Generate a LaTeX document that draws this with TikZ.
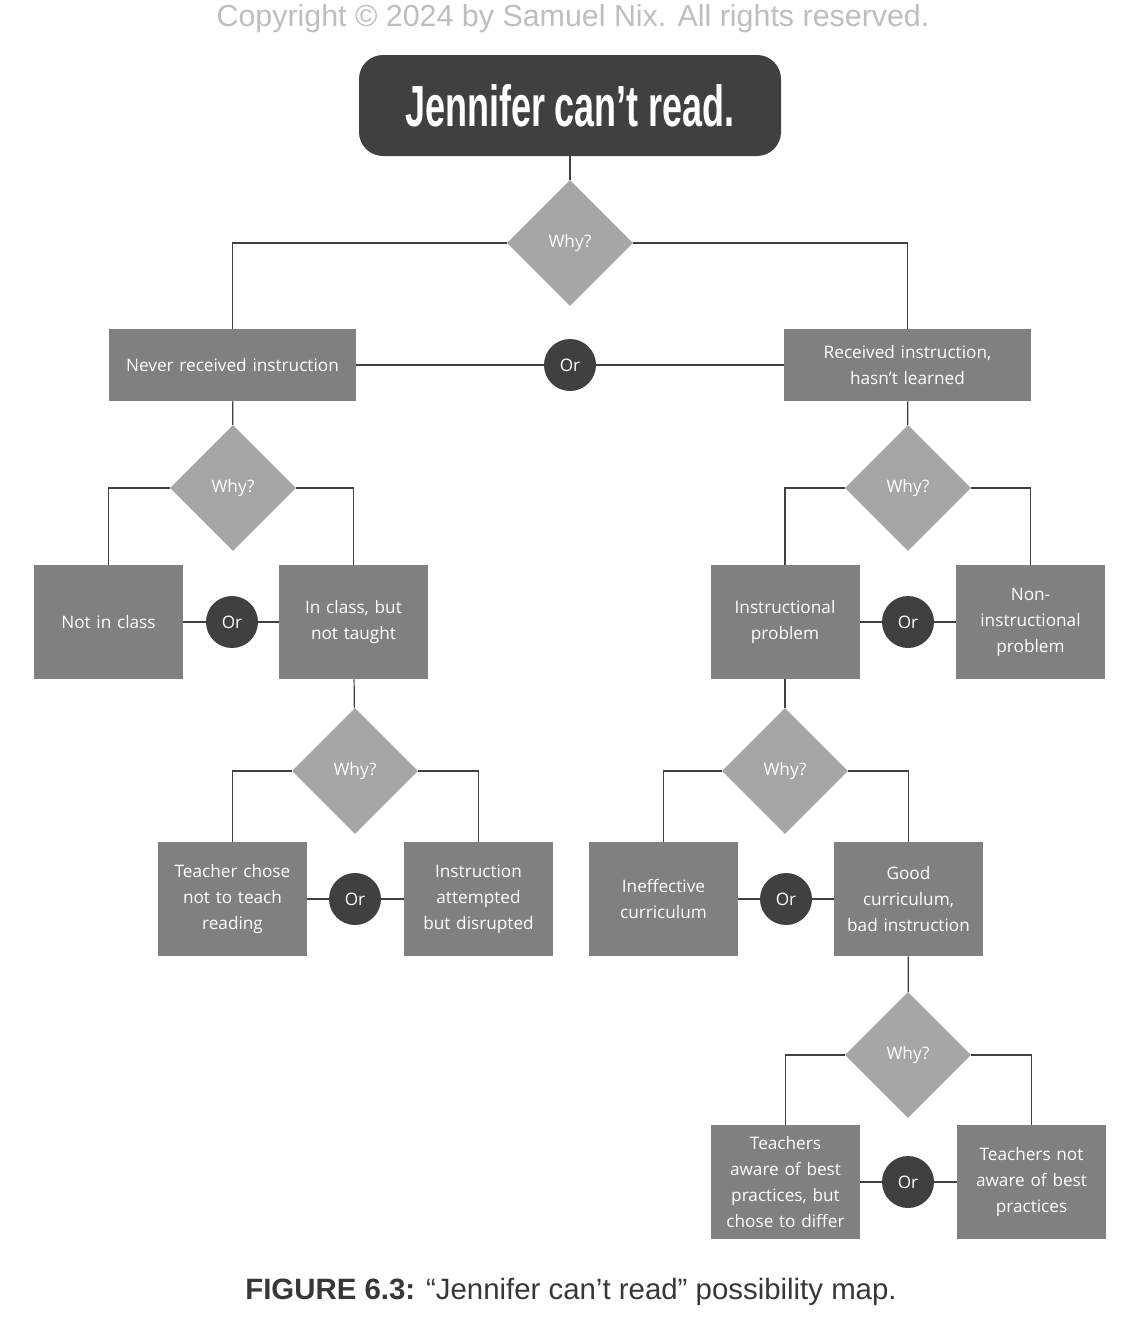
\documentclass[tikz,border=0pt]{standalone}
\usepackage{fontspec}
\setmainfont{Open Sans}
\newfontfamily\copyfont{Liberation Sans}
\newfontfamily\titlefont[FakeStretch=0.62]{Liberation Sans Bold}
\usepackage{xcolor}
\definecolor{darkbox}{RGB}{64, 64, 64}
\definecolor{boxgray}{RGB}{128, 128, 128}
\definecolor{whygray}{RGB}{166, 166, 166}
\definecolor{copygray}{RGB}{190, 190, 190}
\definecolor{captiongray}{RGB}{55, 55, 55}
\usetikzlibrary{shapes.geometric,positioning}

\begin{document}
\begin{tikzpicture}[x=0.5pt, y=-0.5pt,
  causebox/.style={fill=boxgray, text=white, minimum width=74.5pt, minimum height=57pt, text width=70pt, align=center, inner sep=0pt, font=\fontsize{8.6}{13}\selectfont},
  widebox/.style={causebox, minimum width=123.5pt, minimum height=36pt, text width=120pt},
  whyshape/.style={diamond, aspect=1, fill=whygray, text=white, minimum width=63pt, minimum height=63pt, inner sep=0pt, font=\fontsize{8.6}{10}\selectfont},
  ornode/.style={circle, fill=darkbox, text=white, minimum size=26pt, inner sep=0pt, font=\fontsize{8.6}{10}\selectfont},
  link/.style={draw=darkbox, line width=0.6pt}
]
\useasboundingbox (0,0) rectangle (1147,1329);

\node[text=copygray, font=\copyfont\fontsize{15.2}{17}\selectfont] (copy) at (573,19) {Copyright © 2024 by Samuel Nix. All rights reserved.};

% root
\node[fill=darkbox, rounded corners=12pt, minimum width=211pt, minimum height=50.5pt, text=white, font=\titlefont\fontsize{29}{32}\selectfont] (root) at (570,105.5) {Jennifer can’t read.};
\node[whyshape] (why1) at (570,243) {Why?};
\node[widebox] (never) at (232.5,365) {Never received instruction};
\node[ornode] (or1) at (570,365) {Or};
\node[widebox] (received) at (907.5,365) {Received instruction,\\hasn’t learned};

% left branch
\node[whyshape] (why2) at (233,488) {Why?};
\node[causebox] (notin) at (108.5,622) {Not in class};
\node[ornode] (or2) at (232,622) {Or};
\node[causebox] (inclass) at (353.5,622) {In class, but\\not taught};
\node[whyshape] (why3) at (355,771) {Why?};
\node[causebox] (chose) at (232.5,899) {Teacher chose\\not to teach\\reading};
\node[ornode] (or3) at (355,899) {Or};
\node[causebox] (disrupted) at (478.5,899) {Instruction\\attempted\\but disrupted};

% right branch
\node[whyshape] (why4) at (908,488) {Why?};
\node[causebox] (instr) at (785,622) {Instructional\\problem};
\node[ornode] (or4) at (908,622) {Or};
\node[causebox] (noninstr) at (1030.5,622) {Non-\\instructional\\problem};
\node[whyshape] (why5) at (785,771) {Why?};
\node[causebox] (ineff) at (663.5,899) {Ineffective\\curriculum};
\node[ornode] (or5) at (786,899) {Or};
\node[causebox] (good) at (908.5,899) {Good\\curriculum,\\bad instruction};
\node[whyshape] (why6) at (908,1055) {Why?};
\node[causebox] (aware) at (785.5,1182) {Teachers\\aware of best\\practices, but\\chose to differ};
\node[ornode] (or6) at (908,1182) {Or};
\node[causebox] (notaware) at (1031.5,1182) {Teachers not\\aware of best\\practices};

\node[text=captiongray, font=\copyfont\fontsize{14.7}{17}\selectfont] (caption) at (571,1292) {\textbf{FIGURE 6.3:} “Jennifer can’t read” possibility map.};

% connectors
\draw[link] (root) -- (why1);
\draw[link] (why1.west) -| (never.north);
\draw[link] (why1.east) -| (received.north);
\draw[link] (never) -- (or1) -- (received);
\draw[link] (never) -- (why2);
\draw[link] (why2.west) -| (notin.north);
\draw[link] (why2.east) -| (inclass.north);
\draw[link] (notin) -- (or2) -- (inclass);
\draw[link] (inclass) -- (why3);
\draw[link] (why3.west) -| (chose.north);
\draw[link] (why3.east) -| (disrupted.north);
\draw[link] (chose) -- (or3) -- (disrupted);
\draw[link] (received) -- (why4);
\draw[link] (why4.west) -| (instr.north);
\draw[link] (why4.east) -| (noninstr.north);
\draw[link] (instr) -- (or4) -- (noninstr);
\draw[link] (instr) -- (why5);
\draw[link] (why5.west) -| (ineff.north);
\draw[link] (why5.east) -| (good.north);
\draw[link] (ineff) -- (or5) -- (good);
\draw[link] (good) -- (why6);
\draw[link] (why6.west) -| (aware.north);
\draw[link] (why6.east) -| (notaware.north);
\draw[link] (aware) -- (or6) -- (notaware);
\end{tikzpicture}
\end{document}
